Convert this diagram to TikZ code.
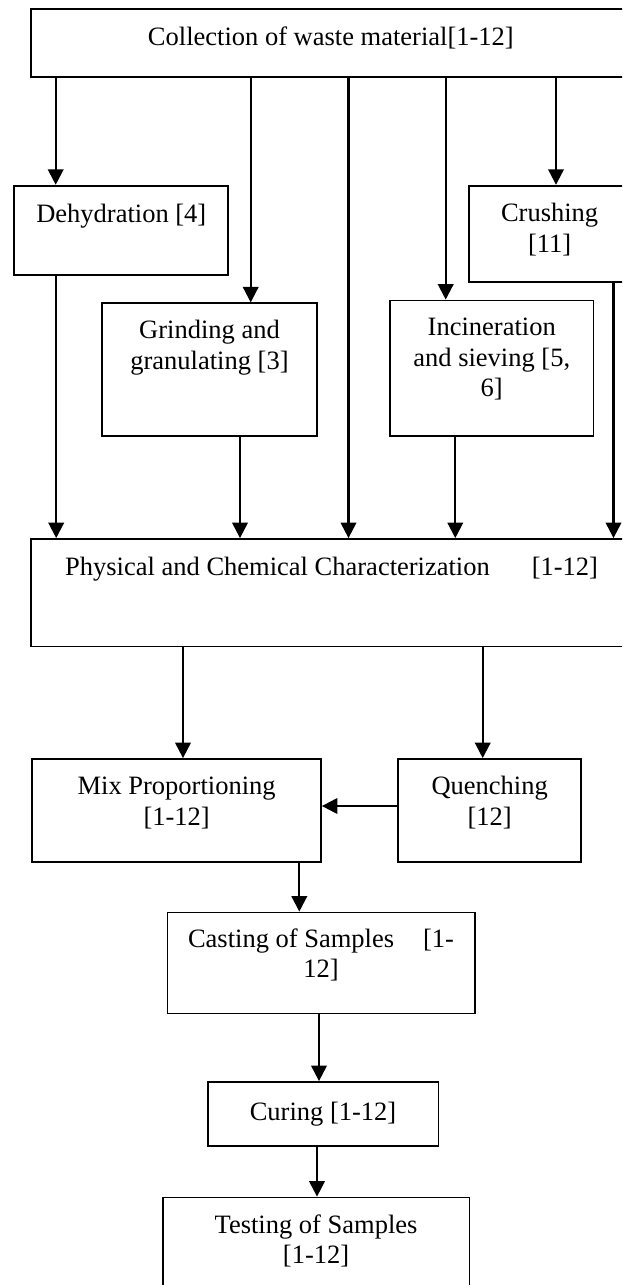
\documentclass[tikz,border=0pt]{standalone}
\usepackage{fontspec}
\setmainfont{Liberation Serif}
\usetikzlibrary{arrows.meta}
\begin{document}
\begin{tikzpicture}[x=1pt,y=-1pt,
  box/.style={draw=black, line width=1.8pt, inner sep=0pt, fill=none},
  txt/.style={inner sep=0pt, align=center, anchor=base,
    font=\fontsize{26.5}{30.5}\selectfont},
  arr/.style={line width=2.2pt, -{Triangle[width=15.5pt,length=15.5pt]}}]
\useasboundingbox (0,0) rectangle (622,1285);
\clip (0,0) rectangle (622,1285);
\fill[white] (0,0) rectangle (622,1285);
% boxes
\node[box, minimum width=600.3pt, minimum height=67.4pt] (top) at (330.85,43) {};
\node[box, minimum width=214pt, minimum height=89.6pt] (dehyd) at (121.3,230.5) {};
\node[box, minimum width=160.7pt, minimum height=96pt] (crush) at (549.65,233.7) {};
\node[box, minimum width=214.4pt, minimum height=132.7pt] (grind) at (209.5,369.65) {};
\node[box, minimum width=203.5pt, minimum height=135.5pt] (incin) at (491.75,368.25) {};
\node[box, minimum width=600.3pt, minimum height=107.5pt] (phys) at (330.85,592.75) {};
\node[box, minimum width=288.7pt, minimum height=102.7pt] (mix) at (176.65,810.35) {};
\node[box, minimum width=182.7pt, minimum height=102.7pt] (quench) at (489.65,810.35) {};
\node[box, minimum width=307.3pt, minimum height=101pt] (cast) at (321.05,963) {};
\node[box, minimum width=230.8pt, minimum height=64pt] (cure) at (323,1114) {};
\node[box, minimum width=306.7pt, minimum height=102.5pt] (test) at (316.05,1248.75) {};
% texts (anchor base = baseline of the last line)
\node[txt] (ttop) at (330.85,45.7) {Collection of waste material[1-12]};
\node[txt] (tdehyd) at (121.3,222.7) {Dehydration [4]};
\node[txt] (tcrush) at (549.65,252) {Crushing\\{}[11]};
\node[txt] (tgrind) at (209.5,369) {Grinding and\\granulating [3]};
\node[txt] (tincin) at (491.75,396.7) {Incineration\\and sieving [5,\\6]};
\node[txt, anchor=base west] (tphys) at (65,575) {Physical and Chemical Characterization\hspace{42pt}[1-12]};
\node[txt] (tmix) at (176.65,825) {Mix Proportioning\\{}[1-12]};
\node[txt] (tquench) at (489.65,825) {Quenching\\{}[12]};
\node[txt] (tcast) at (321.05,977.5) {Casting of Samples\hspace{29pt}[1-\\12]};
\node[txt] (tcure) at (323,1120) {Curing [1-12]};
\node[txt] (ttest) at (316.05,1263.5) {Testing of Samples\\{}[1-12]};
% connector columns
\coordinate (xa) at (55.7,0);
\coordinate (xb) at (250.7,0);
\coordinate (xc) at (348.5,0);
\coordinate (xd) at (445.7,0);
\coordinate (xe) at (556,0);
\coordinate (xf) at (56.2,0);
\coordinate (xg) at (240,0);
\coordinate (xh) at (455.3,0);
\coordinate (xi) at (613.5,0);
\coordinate (xj) at (183,0);
\coordinate (xk) at (482.7,0);
\coordinate (xl) at (299.3,0);
\coordinate (xm) at (319,0);
\coordinate (xn) at (317,0);
\coordinate (yq) at (0,806);
% connectors
\draw[arr] (top.south -| xa) -- (dehyd.north -| xa);
\draw[arr] (top.south -| xb) -- (grind.north -| xb);
\draw[arr] (top.south -| xc) -- (phys.north -| xc);
\draw[arr] (top.south -| xd) -- (incin.north -| xd);
\draw[arr] (top.south -| xe) -- (crush.north -| xe);
\draw[arr] (dehyd.south -| xf) -- (phys.north -| xf);
\draw[arr] (grind.south -| xg) -- (phys.north -| xg);
\draw[arr] (incin.south -| xh) -- (phys.north -| xh);
\draw[arr] (crush.south -| xi) -- (phys.north -| xi);
\draw[arr] (phys.south -| xj) -- (mix.north -| xj);
\draw[arr] (phys.south -| xk) -- (quench.north -| xk);
\draw[arr] (quench.west |- yq) -- (mix.east |- yq);
\draw[arr] (mix.south -| xl) -- (cast.north -| xl);
\draw[arr] (cast.south -| xm) -- (cure.north -| xm);
\draw[arr] (cure.south -| xn) -- (test.north -| xn);
\end{tikzpicture}
\end{document}
